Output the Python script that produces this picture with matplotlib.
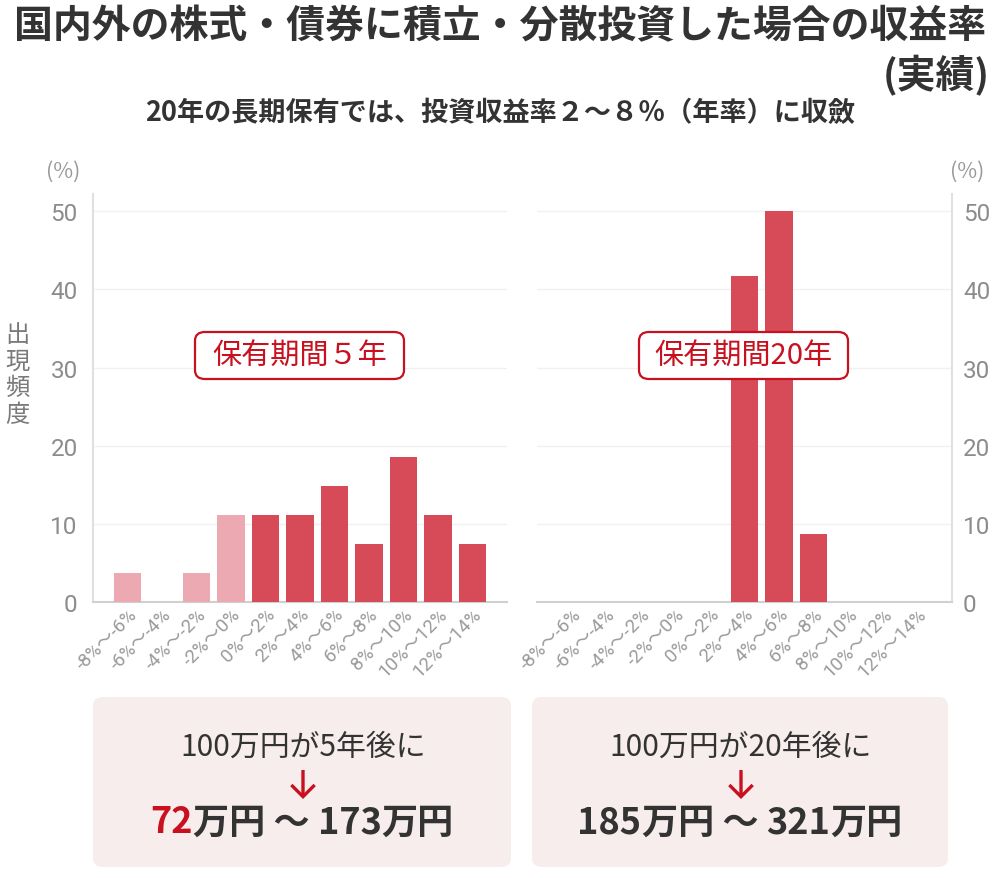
import matplotlib
matplotlib.use('Agg')
import matplotlib.pyplot as plt
from matplotlib.patches import FancyBboxPatch, FancyArrowPatch

# ---------------- data ----------------
categories = ['-8%～-6%', '-6%～-4%', '-4%～-2%', '-2%～0%', '0%～2%', '2%～4%',
              '4%～6%', '6%～8%', '8%～10%', '10%～12%', '12%～14%']
freq_5y = [3.7, 0, 3.7, 11.1, 11.1, 11.1, 14.8, 7.4, 18.5, 11.1, 7.4]
freq_20y = [0, 0, 0, 0, 0, 41.7, 50.0, 8.7, 0, 0, 0]
yticks = [0, 10, 20, 30, 40, 50]

title = '国内外の株式・債券に積立・分散投資した場合の収益率'
title2 = '(実績)'
subtitle = '20年の長期保有では、投資収益率２～８％（年率）に収斂'
panel_labels = ['保有期間５年', '保有期間20年']
box_line1 = ['100万円が5年後に', '100万円が20年後に']
box_low = ['72', '185']
box_high = ['173', '321']

# ---------------- style ----------------
CJK = ['Noto Sans CJK JP', 'DejaVu Sans']
NUM = ['Roboto', 'Noto Sans CJK JP', 'DejaVu Sans']
plt.rcParams['font.family'] = NUM
DARK = '#D64B57'
LIGHT = '#EDA9B1'
RED = '#C8101E'
GRAY_TXT = '#8C8C8C'

W, H = 1000, 879
fig = plt.figure(figsize=(W / 100, H / 100), dpi=100)
fig.patch.set_facecolor('white')


def fx(x):
    return x / W


def fy(y):
    return 1 - y / H


def make_axes(rect, values, side):
    ax = fig.add_axes(rect)
    x = list(range(len(categories)))
    colors = [LIGHT if c.startswith('-') else DARK for c in categories]
    ax.bar(x, values, width=0.8, color=colors, zorder=3)
    ax.set_xlim(-1, 11)
    ax.set_ylim(0, 52.2)
    ax.set_yticks(yticks)
    ax.yaxis.grid(True, color='#F1F1F1', lw=1.0, zorder=0)
    ax.set_axisbelow(True)
    for s in ['top', 'right', 'left']:
        ax.spines[s].set_visible(False)
    ax.spines['bottom'].set_color('#D0D0D0')
    ax.spines['bottom'].set_linewidth(1.5)
    if side == 'left':
        ax.spines['left'].set_visible(True)
        ax.spines['left'].set_color('#E0E0E0')
        ax.spines['left'].set_linewidth(1.5)
        ax.tick_params(axis='y', length=0, pad=11, labelsize=17.5, labelcolor=GRAY_TXT)
    else:
        ax.spines['right'].set_visible(True)
        ax.spines['right'].set_color('#E0E0E0')
        ax.spines['right'].set_linewidth(1.5)
        ax.yaxis.tick_right()
        ax.tick_params(axis='y', length=0, pad=8, labelsize=17.5, labelcolor=GRAY_TXT)
    ax.set_xticks(x)
    ax.set_xticklabels(categories, rotation=45, ha='right', va='top',
                       rotation_mode='anchor', fontsize=13.5, color='#9A9A9A')
    ax.tick_params(axis='x', length=0, pad=2)
    return ax


ax1 = make_axes([fx(93), fy(603), (507 - 93) / W, (603 - 195) / H], freq_5y, 'left')
ax2 = make_axes([fx(537), fy(603), (952 - 537) / W, (603 - 195) / H], freq_20y, 'right')

# ---------------- titles ----------------
fig.text(0.5, fy(27), title, ha='center', va='center', fontsize=28,
         fontweight='bold', color='#333333', family=CJK)
fig.text(fx(990), fy(76), title2, ha='right', va='center', fontsize=28,
         fontweight='bold', color='#333333', family=CJK)
fig.text(0.5, fy(113), subtitle, ha='center', va='center', fontsize=19.5,
         fontweight='bold', color='#333333', family=CJK)

# axis unit labels
fig.text(fx(63), fy(172), '(%)', ha='center', va='center', fontsize=15.5, color='#999999', family=CJK)
fig.text(fx(967), fy(172), '(%)', ha='center', va='center', fontsize=15.5, color='#999999', family=CJK)
fig.text(fx(17), fy(375), '出\n現\n頻\n度', ha='center', va='center', fontsize=17.5,
         color='#7A7A7A', family=CJK, linespacing=1.02)


# ---------------- panel label boxes ----------------
def rbox(x0, y0, x1, y1, fc, ec, lw, r):
    p = FancyBboxPatch((fx(x0), fy(y1)), fx(x1) - fx(x0), fy(y0) - fy(y1),
                       boxstyle='round,pad=0,rounding_size=%f' % (r / W),
                       transform=fig.transFigure, facecolor=fc, edgecolor=ec,
                       linewidth=lw, zorder=5)
    fig.add_artist(p)


label_boxes = [(195, 333, 404, 380), (639, 333, 848, 380)]
for (x0, y0, x1, y1), lab in zip(label_boxes, panel_labels):
    rbox(x0, y0, x1, y1, 'white', RED, 1.6, 10)
    fig.text(fx((x0 + x1) / 2), fy((y0 + y1) / 2), lab, ha='center', va='center',
             fontsize=21, color=RED, family=CJK, zorder=6)

# ---------------- bottom boxes ----------------
bottom_boxes = [(93, 698, 511, 868), (532, 698, 948, 868)]
for i, (x0, y0, x1, y1) in enumerate(bottom_boxes):
    rbox(x0, y0, x1, y1, '#F6EDEC', 'none', 0, 10)
    cx = (x0 + x1) / 2 + 1
    fig.text(fx(cx), fy(747), box_line1[i], ha='center', va='center', fontsize=21.5,
             color='#333333', family=CJK, zorder=6)
    arr = FancyArrowPatch((fx(cx), fy(771)), (fx(cx), fy(800)),
                          transform=fig.transFigure,
                          arrowstyle='->,head_length=0.42,head_width=0.42',
                          mutation_scale=20, lw=2.4, color=RED, zorder=6,
                          shrinkA=0, shrinkB=0, capstyle='butt', joinstyle='miter')
    fig.add_artist(arr)


# second lines, composed of pieces
def line2(cx, y, low, high, low_red):
    parts = [(low, RED if low_red else '#333333'), ('万円 ～ ', '#333333'),
             (high, '#333333'), ('万円', '#333333')]
    r = fig.canvas.get_renderer()
    texts = []
    for s, c in parts:
        t = fig.text(0, fy(y), s, ha='left', va='center', fontsize=26,
                     fontweight='bold', color=c, family=CJK, zorder=6)
        texts.append(t)
    widths = [t.get_window_extent(renderer=r).width for t in texts]
    total = sum(widths)
    x = cx - total / 2
    for t, w in zip(texts, widths):
        t.set_x(x / W)
        x += w


line2(302, 823, box_low[0], box_high[0], True)
line2(740, 823, box_low[1], box_high[1], False)

fig.savefig('out.png', dpi=100, facecolor='white')
